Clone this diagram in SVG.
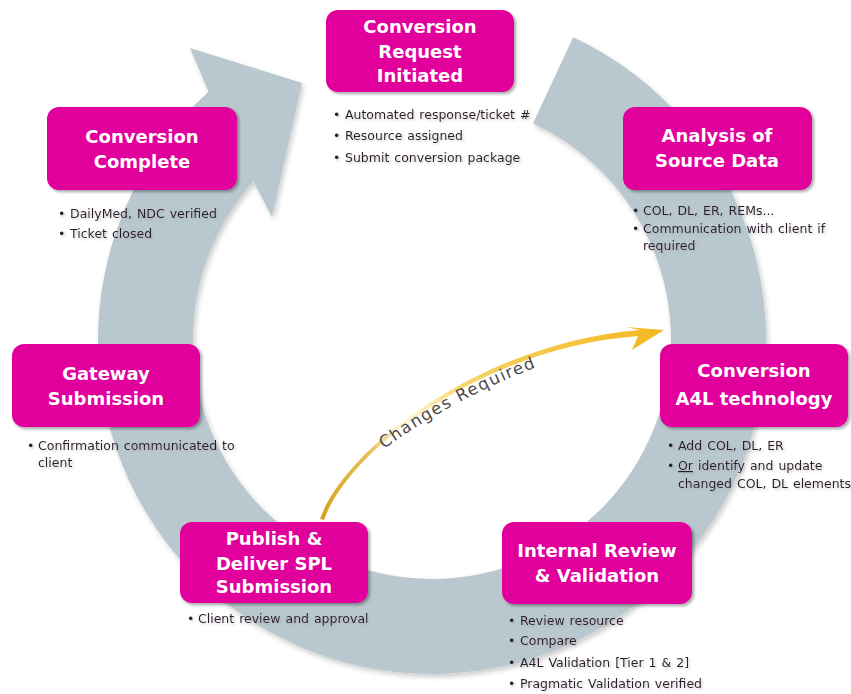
<svg xmlns="http://www.w3.org/2000/svg" width="851" height="694" viewBox="0 0 851 694">
<defs>
<style>
.box{fill:#e1009b;filter:url(#sh);}
.title{font-family:"DejaVu Sans",sans-serif;font-weight:bold;font-size:18px;fill:#ffffff;text-anchor:middle;}
.bul{font-family:"DejaVu Sans",sans-serif;font-size:12.5px;fill:#2b1a29;word-spacing:1px;filter:url(#tsh);}
.cr{font-family:"DejaVu Sans",sans-serif;font-size:16.5px;letter-spacing:1.5px;fill:#4a4a4a;}
</style>
<filter id="sh" x="-10%" y="-10%" width="130%" height="130%"><feDropShadow dx="2" dy="2" stdDeviation="1.5" flood-color="#000" flood-opacity="0.35"/></filter>
<filter id="tsh" x="-5%" y="-30%" width="115%" height="180%"><feDropShadow dx="1.5" dy="1.5" stdDeviation="1" flood-color="#999" flood-opacity="0.5"/></filter>
<filter id="rsh" x="-5%" y="-5%" width="115%" height="115%"><feDropShadow dx="2" dy="3" stdDeviation="2.5" flood-color="#000" flood-opacity="0.2"/></filter>
<linearGradient id="gold" gradientUnits="userSpaceOnUse" x1="322" y1="518" x2="664" y2="333">
<stop offset="0" stop-color="#d6a21c"/>
<stop offset="0.18" stop-color="#e6be55"/>
<stop offset="0.3" stop-color="#fff8e0"/>
<stop offset="0.5" stop-color="#f6d466"/>
<stop offset="1" stop-color="#f4b71e"/>
</linearGradient>
<path id="crp" d="M 384 449 Q 455 397 550 362"/>
</defs>
<rect width="851" height="694" fill="#ffffff"/>
<g id="connectors">
<path id="ring" d="M 573.2 37.3 A 334 334 0 1 1 208.5 91.8 L 190 48 L 302 83 L 272 217 L 253.3 181.3 A 239 239 0 1 0 533.0 123.4 Z" fill="#b9c8cf" filter="url(#rsh)"/>
<path id="changes" d="M 320 519 C 345 449 480 343 640 330 L 626 327 L 664 330 L 632 350 L 638 336 C 481 348 348 451 324 520 Z" fill="url(#gold)"/>
<text class="cr"><textPath href="#crp">Changes Required</textPath></text>
</g>
<g id="n1">
<rect class="box" x="326" y="10" width="188" height="82" rx="12"/>
<text class="title" x="420" y="33">Conversion</text>
<text class="title" x="420" y="58">Request</text>
<text class="title" x="420" y="82">Initiated</text>
<g class="bul">
<text x="333" y="119">•</text><text x="345" y="119">Automated response/ticket #</text>
<text x="333" y="140">•</text><text x="345" y="140">Resource assigned</text>
<text x="333" y="162">•</text><text x="345" y="162">Submit conversion package</text>
</g>
</g>
<g id="n2">
<rect class="box" x="623" y="107" width="189" height="83" rx="12"/>
<text class="title" x="717" y="142">Analysis of</text>
<text class="title" x="717" y="167">Source Data</text>
<g class="bul">
<text x="632" y="215">•</text><text x="643" y="215">COL, DL, ER, REMs...</text>
<text x="632" y="233">•</text><text x="643" y="233">Communication with client if</text>
<text x="643" y="250">required</text>
</g>
</g>
<g id="n3">
<rect class="box" x="660" y="344" width="188" height="83" rx="12"/>
<text class="title" x="754" y="377">Conversion</text>
<text class="title" x="754" y="405">A4L technology</text>
<g class="bul">
<text x="667" y="450">•</text><text x="678" y="450">Add COL, DL, ER</text>
<text x="667" y="470">•</text><text x="678" y="470"><tspan text-decoration="underline">Or</tspan> identify and update</text>
<text x="678" y="488">changed COL, DL elements</text>
</g>
</g>
<g id="n4">
<rect class="box" x="502" y="522" width="190" height="82" rx="12"/>
<text class="title" x="597" y="557">Internal Review</text>
<text class="title" x="597" y="582">&amp; Validation</text>
<g class="bul">
<text x="508" y="625">•</text><text x="520" y="625">Review resource</text>
<text x="508" y="645">•</text><text x="520" y="645">Compare</text>
<text x="508" y="667">•</text><text x="520" y="667">A4L Validation [Tier 1 &amp; 2]</text>
<text x="508" y="688">•</text><text x="520" y="688">Pragmatic Validation verified</text>
</g>
</g>
<g id="n5">
<rect class="box" x="180" y="522" width="188" height="81" rx="12"/>
<text class="title" x="274" y="545">Publish &amp;</text>
<text class="title" x="274" y="570">Deliver SPL</text>
<text class="title" x="274" y="593">Submission</text>
<g class="bul">
<text x="187" y="623">•</text><text x="198" y="623">Client review and approval</text>
</g>
</g>
<g id="n6">
<rect class="box" x="12" y="344" width="188" height="83" rx="12"/>
<text class="title" x="106" y="380">Gateway</text>
<text class="title" x="106" y="405">Submission</text>
<g class="bul">
<text x="27" y="450">•</text><text x="38" y="450">Confirmation communicated to</text>
<text x="38" y="467">client</text>
</g>
</g>
<g id="n7">
<rect class="box" x="47" y="107" width="190" height="83" rx="12"/>
<text class="title" x="142" y="143">Conversion</text>
<text class="title" x="142" y="168">Complete</text>
<g class="bul">
<text x="58" y="218">•</text><text x="70" y="218">DailyMed, NDC verified</text>
<text x="58" y="238">•</text><text x="70" y="238">Ticket closed</text>
</g>
</g>
</svg>
